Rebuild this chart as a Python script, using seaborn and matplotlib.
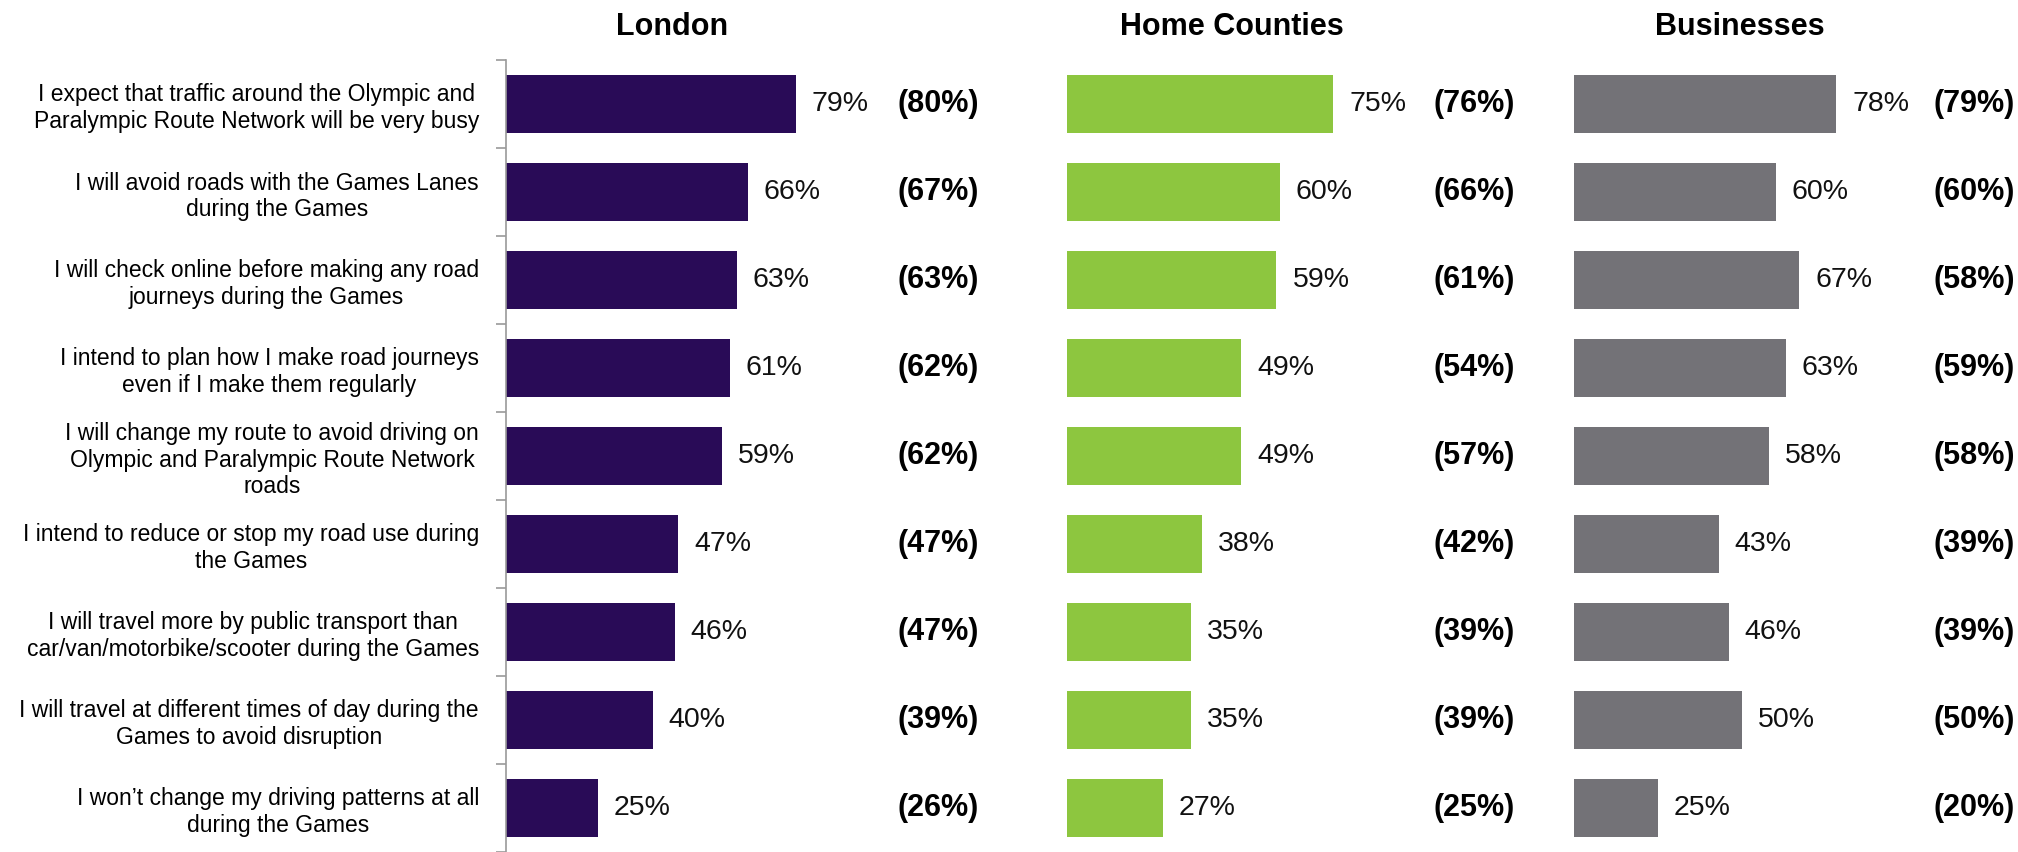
import matplotlib
matplotlib.use("Agg")
import pandas as pd
import seaborn as sns
import matplotlib.pyplot as plt

plt.rcParams['font.family'] = ['Liberation Sans', 'DejaVu Sans']

# survey statements (rows, top to bottom)
statements = [
    "I expect that traffic around the Olympic and\nParalympic Route Network will be very busy",
    "I will avoid roads with the Games Lanes\nduring the Games",
    "I will check online before making any road\njourneys during the Games",
    "I intend to plan how I make road journeys\neven if I make them regularly",
    "I will change my route to avoid driving on\nOlympic and Paralympic Route Network\nroads",
    "I intend to reduce or stop my road use during\nthe Games",
    "I will travel more by public transport than\ncar/van/motorbike/scooter during the Games",
    "I will travel at different times of day during the\nGames to avoid disruption",
    "I won\u2019t change my driving patterns at all\nduring the Games",
]

groups = ["London", "Home Counties", "Businesses"]

london = [79, 66, 63, 61, 59, 47, 46, 40, 25]
london_prev = [80, 67, 63, 62, 62, 47, 47, 39, 26]
home = [75, 60, 59, 49, 49, 38, 35, 35, 27]
home_prev = [76, 66, 61, 54, 57, 42, 39, 39, 25]
business = [78, 60, 67, 63, 58, 43, 46, 50, 25]
business_prev = [79, 60, 58, 59, 58, 39, 39, 50, 20]

colors = ["#290B57", "#8DC63F", "#737277"]

W, H = 2018, 852
fig = plt.figure(figsize=(W / 100, H / 100), dpi=100)

# panel layout in pixels: left, right, x max, bracket x (data), title centre
layout = [
    (506, 990, 132, 117.8, 672),
    (1067, 1520, 127.6, 114.6, 1232),
    (1574, 2018, 132, 119, 1740),
]
top_px = 60

series = [(london, london_prev), (home, home_prev), (business, business_prev)]

for k, (name, (cur, prev), col, (l, r, xmax, bx, tx)) in enumerate(
        zip(groups, series, colors, layout)):
    ax = fig.add_axes([l / W, 0, (r - l) / W, 1 - top_px / H])
    df = pd.DataFrame({"statement": statements, "value": cur})
    sns.barplot(data=df, x="value", y="statement", ax=ax, color=col,
                saturation=1, width=0.65, orient="h")
    ax.set_xlim(0, xmax)
    ax.set_ylim(8.5, -0.5)
    ax.set_xlabel("")
    ax.set_ylabel("")
    ax.set_xticks([])
    for s in ["top", "right", "bottom"]:
        ax.spines[s].set_visible(False)
    ax.patch.set_alpha(0)

    for i, (v, p) in enumerate(zip(cur, prev)):
        ax.annotate(f"{v}%", xy=(v, i), xytext=(11.5, 0), textcoords="offset points",
                    va="center", ha="left", fontsize=20.5, color="#111111")
        ax.text(bx, i, f"({p}%)", ha="center", va="center", fontsize=22,
                fontweight="bold", color="black")

    if k == 0:
        ax.spines["left"].set_color("#9a9a9a")
        ax.spines["left"].set_linewidth(1.2)
        ax.set_yticks([i - 0.5 for i in range(10)], minor=True)
        ax.tick_params(axis="y", which="minor", length=7, color="#9a9a9a", width=1.2)
        ax.tick_params(axis="y", which="major", length=0, pad=19.5, labelsize=16.5)
        for t in ax.get_yticklabels():
            t.set_multialignment("center")
            t.set_linespacing(1.2)
    else:
        ax.spines["left"].set_visible(False)
        ax.set_yticks([])

    fig.text(tx / W, 1 - 27 / H, name, ha="center", va="center",
             fontsize=22, fontweight="bold")

fig.savefig("out.png", dpi=100)
